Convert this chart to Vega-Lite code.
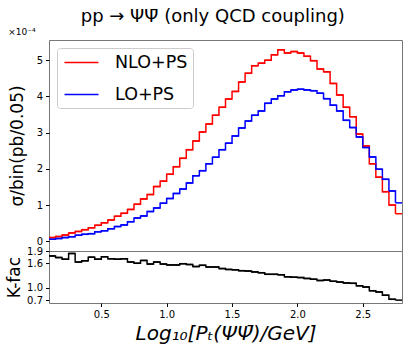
{
  "$schema": "https://vega.github.io/schema/vega-lite/v6.json",
  "padding": {"left": 5, "top": 7, "right": 8, "bottom": 4},
  "background": "white",
  "title": {"text": "pp \u2192 \u03a8\u03a8\u0304 (only QCD coupling)", "fontSize": 18, "font": "DejaVu Sans", "fontWeight": "normal", "anchor": "middle", "offset": 2, "dx": 9, "color": "black"},
  "config": {
    "font": "DejaVu Sans",
    "view": {"stroke": "#777", "strokeWidth": 1},
    "axis": {"labelFont": "DejaVu Sans", "labelFontSize": 10, "labelColor": "black", "tickColor": "black", "tickSize": 3.5, "labelPadding": 3, "grid": false, "domain": false, "titleFont": "DejaVu Sans", "titleFontWeight": "normal", "titleColor": "black"},
    "legend": {"orient": "top-left", "offset": 8, "padding": 5, "strokeColor": "#ccc", "cornerRadius": 3, "fillColor": "white", "symbolType": "M-2,0H2", "symbolSize": 289, "symbolStrokeWidth": 1.5, "symbolOffset": 10, "labelFontSize": 17.5, "labelFont": "DejaVu Sans", "labelColor": "black", "labelOffset": 24, "rowPadding": 14, "title": null}
  },
  "datasets": {
    "bins": [
      {"x0": 0.10, "x1": 0.15, "nlo": 0.10e-4, "lo": 0.055e-4, "k": 1.78},
      {"x0": 0.15, "x1": 0.20, "nlo": 0.13e-4, "lo": 0.075e-4, "k": 1.74},
      {"x0": 0.20, "x1": 0.25, "nlo": 0.17e-4, "lo": 0.10e-4, "k": 1.70},
      {"x0": 0.25, "x1": 0.30, "nlo": 0.23e-4, "lo": 0.125e-4, "k": 1.84},
      {"x0": 0.30, "x1": 0.35, "nlo": 0.27e-4, "lo": 0.165e-4, "k": 1.63},
      {"x0": 0.35, "x1": 0.40, "nlo": 0.32e-4, "lo": 0.19e-4, "k": 1.66},
      {"x0": 0.40, "x1": 0.45, "nlo": 0.37e-4, "lo": 0.21e-4, "k": 1.75},
      {"x0": 0.45, "x1": 0.50, "nlo": 0.44e-4, "lo": 0.26e-4, "k": 1.70},
      {"x0": 0.50, "x1": 0.55, "nlo": 0.51e-4, "lo": 0.29e-4, "k": 1.76},
      {"x0": 0.55, "x1": 0.60, "nlo": 0.59e-4, "lo": 0.345e-4, "k": 1.71},
      {"x0": 0.60, "x1": 0.65, "nlo": 0.69e-4, "lo": 0.405e-4, "k": 1.70},
      {"x0": 0.65, "x1": 0.70, "nlo": 0.77e-4, "lo": 0.45e-4, "k": 1.71},
      {"x0": 0.70, "x1": 0.75, "nlo": 0.88e-4, "lo": 0.54e-4, "k": 1.63},
      {"x0": 0.75, "x1": 0.80, "nlo": 1.02e-4, "lo": 0.64e-4, "k": 1.60},
      {"x0": 0.80, "x1": 0.85, "nlo": 1.17e-4, "lo": 0.70e-4, "k": 1.67},
      {"x0": 0.85, "x1": 0.90, "nlo": 1.29e-4, "lo": 0.82e-4, "k": 1.58},
      {"x0": 0.90, "x1": 0.95, "nlo": 1.51e-4, "lo": 0.92e-4, "k": 1.63},
      {"x0": 0.95, "x1": 1.00, "nlo": 1.66e-4, "lo": 1.05e-4, "k": 1.58},
      {"x0": 1.00, "x1": 1.05, "nlo": 1.85e-4, "lo": 1.18e-4, "k": 1.56},
      {"x0": 1.05, "x1": 1.10, "nlo": 2.06e-4, "lo": 1.32e-4, "k": 1.56},
      {"x0": 1.10, "x1": 1.15, "nlo": 2.29e-4, "lo": 1.44e-4, "k": 1.59},
      {"x0": 1.15, "x1": 1.20, "nlo": 2.53e-4, "lo": 1.61e-4, "k": 1.57},
      {"x0": 1.20, "x1": 1.25, "nlo": 2.77e-4, "lo": 1.81e-4, "k": 1.52},
      {"x0": 1.25, "x1": 1.30, "nlo": 3.02e-4, "lo": 1.95e-4, "k": 1.55},
      {"x0": 1.30, "x1": 1.35, "nlo": 3.24e-4, "lo": 2.14e-4, "k": 1.51},
      {"x0": 1.35, "x1": 1.40, "nlo": 3.48e-4, "lo": 2.32e-4, "k": 1.51},
      {"x0": 1.40, "x1": 1.45, "nlo": 3.70e-4, "lo": 2.53e-4, "k": 1.47},
      {"x0": 1.45, "x1": 1.50, "nlo": 3.93e-4, "lo": 2.71e-4, "k": 1.45},
      {"x0": 1.50, "x1": 1.55, "nlo": 4.14e-4, "lo": 2.91e-4, "k": 1.44},
      {"x0": 1.55, "x1": 1.60, "nlo": 4.40e-4, "lo": 3.13e-4, "k": 1.42},
      {"x0": 1.60, "x1": 1.65, "nlo": 4.64e-4, "lo": 3.32e-4, "k": 1.41},
      {"x0": 1.65, "x1": 1.70, "nlo": 4.85e-4, "lo": 3.48e-4, "k": 1.39},
      {"x0": 1.70, "x1": 1.75, "nlo": 4.92e-4, "lo": 3.60e-4, "k": 1.37},
      {"x0": 1.75, "x1": 1.80, "nlo": 5.00e-4, "lo": 3.81e-4, "k": 1.33},
      {"x0": 1.80, "x1": 1.85, "nlo": 5.15e-4, "lo": 3.93e-4, "k": 1.33},
      {"x0": 1.85, "x1": 1.90, "nlo": 5.29e-4, "lo": 4.02e-4, "k": 1.32},
      {"x0": 1.90, "x1": 1.95, "nlo": 5.20e-4, "lo": 4.13e-4, "k": 1.27},
      {"x0": 1.95, "x1": 2.00, "nlo": 5.24e-4, "lo": 4.18e-4, "k": 1.26},
      {"x0": 2.00, "x1": 2.05, "nlo": 5.20e-4, "lo": 4.20e-4, "k": 1.25},
      {"x0": 2.05, "x1": 2.10, "nlo": 5.11e-4, "lo": 4.18e-4, "k": 1.23},
      {"x0": 2.10, "x1": 2.15, "nlo": 4.99e-4, "lo": 4.16e-4, "k": 1.21},
      {"x0": 2.15, "x1": 2.20, "nlo": 4.76e-4, "lo": 4.09e-4, "k": 1.18},
      {"x0": 2.20, "x1": 2.25, "nlo": 4.68e-4, "lo": 3.94e-4, "k": 1.19},
      {"x0": 2.25, "x1": 2.30, "nlo": 4.36e-4, "lo": 3.76e-4, "k": 1.16},
      {"x0": 2.30, "x1": 2.35, "nlo": 4.04e-4, "lo": 3.60e-4, "k": 1.14},
      {"x0": 2.35, "x1": 2.40, "nlo": 3.70e-4, "lo": 3.34e-4, "k": 1.12},
      {"x0": 2.40, "x1": 2.45, "nlo": 3.44e-4, "lo": 3.14e-4, "k": 1.11},
      {"x0": 2.45, "x1": 2.50, "nlo": 2.96e-4, "lo": 2.88e-4, "k": 1.05},
      {"x0": 2.50, "x1": 2.55, "nlo": 2.63e-4, "lo": 2.59e-4, "k": 1.02},
      {"x0": 2.55, "x1": 2.60, "nlo": 2.14e-4, "lo": 2.33e-4, "k": 0.93},
      {"x0": 2.60, "x1": 2.65, "nlo": 1.77e-4, "lo": 1.99e-4, "k": 0.90},
      {"x0": 2.65, "x1": 2.70, "nlo": 1.37e-4, "lo": 1.71e-4, "k": 0.82},
      {"x0": 2.70, "x1": 2.75, "nlo": 1.00e-4, "lo": 1.39e-4, "k": 0.72},
      {"x0": 2.75, "x1": 2.80, "nlo": 0.76e-4, "lo": 1.06e-4, "k": 0.70}
    ]
  },
  "spacing": 0,
  "bounds": "flush",
  "resolve": {"scale": {"color": "independent"}, "legend": {"color": "independent"}},
  "vconcat": [
    {
      "width": 353,
      "height": 211,
      "title": {"text": "\u00d710\u207b\u2074", "anchor": "start", "fontSize": 9, "fontWeight": "normal", "offset": 3, "color": "black"},
      "data": {"name": "bins"},
      "transform": [{"fold": ["nlo", "lo"], "as": ["series", "sigma"]}],
      "encoding": {
        "x": {"field": "x0", "type": "quantitative", "scale": {"domain": [0.1, 2.8], "nice": false, "zero": false}, "axis": null},
        "y": {"field": "sigma", "type": "quantitative", "scale": {"domain": [-0.27e-4, 5.56e-4], "nice": false, "zero": false},
              "axis": {"values": [0, 1e-4, 2e-4, 3e-4, 4e-4, 5e-4], "labelExpr": "format(datum.value*1e4, 'd')", "title": "σ/bin(pb/0.05)", "titleFontSize": 17, "titlePadding": 10}},
        "color": {"field": "series", "type": "nominal",
                  "scale": {"domain": ["nlo", "lo"], "range": ["#ff0000", "#0000ff"]},
                  "legend": {"labelExpr": "datum.label == 'nlo' ? 'NLO+PS' : 'LO+PS'"}}
      },
      "layer": [
        {"mark": {"type": "line", "interpolate": "step-after", "strokeWidth": 1.5, "clip": true}},
        {"mark": {"type": "rule", "strokeWidth": 1.5, "clip": true},
         "encoding": {"x2": {"field": "x1"}}}
      ]
    },
    {
      "width": 353,
      "height": 52,
      "data": {"name": "bins"},
      "encoding": {
        "x": {"field": "x0", "type": "quantitative", "scale": {"domain": [0.1, 2.8], "nice": false, "zero": false},
              "axis": {"values": [0.5, 1.0, 1.5, 2.0, 2.5], "format": ".1f", "title": "Log\u2081\u2080[P\u209c(\u03a8\u03a8\u0304)/GeV]", "titleFontSize": 20, "titleFontStyle": "italic", "titlePadding": 4}},
        "y": {"field": "k", "type": "quantitative", "scale": {"domain": [0.63, 1.9], "nice": false, "zero": false},
              "axis": {"values": [0.7, 1.0, 1.6, 1.9], "format": ".1f", "title": "K-fac", "titleFontSize": 17, "titlePadding": 3}}
      },
      "layer": [
        {"mark": {"type": "line", "interpolate": "step-after", "strokeWidth": 1.5, "color": "black", "clip": true}},
        {"mark": {"type": "rule", "strokeWidth": 1.5, "color": "black", "clip": true},
         "encoding": {"x2": {"field": "x1"}}}
      ]
    }
  ]
}
